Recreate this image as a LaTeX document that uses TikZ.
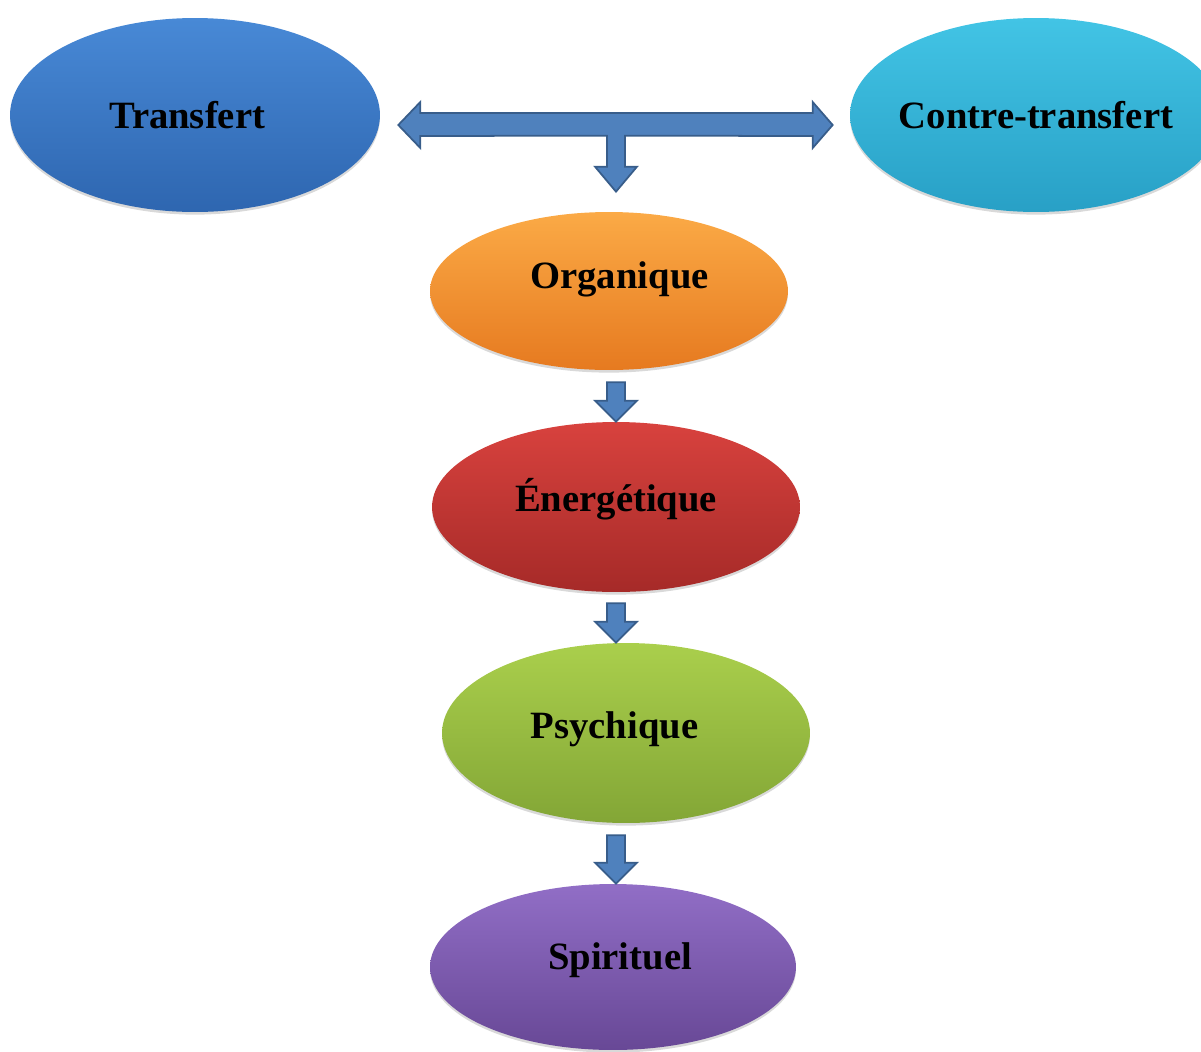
\documentclass[tikz,border=0pt]{standalone}
\usepackage{fontspec}
\setmainfont{Liberation Serif}
\usetikzlibrary{shapes.geometric}
\usetikzlibrary{shadows}
\usetikzlibrary{calc}

\definecolor{arrowblue}{RGB}{79,129,189}
\definecolor{arrowedge}{RGB}{56,93,138}
\definecolor{blueTop}{RGB}{72,137,214}
\definecolor{blueBot}{RGB}{46,102,176}
\definecolor{cyanTop}{RGB}{66,196,229}
\definecolor{cyanBot}{RGB}{40,160,198}
\definecolor{orangeTop}{RGB}{251,170,70}
\definecolor{orangeBot}{RGB}{230,122,32}
\definecolor{redTop}{RGB}{216,66,62}
\definecolor{redBot}{RGB}{166,42,40}
\definecolor{greenTop}{RGB}{170,207,76}
\definecolor{greenBot}{RGB}{131,166,54}
\definecolor{purpleTop}{RGB}{145,110,198}
\definecolor{purpleBot}{RGB}{104,72,150}

% block arrow pointing down, from tail #1 to tip #2
\newcommand{\blockdown}[2]{%
  \path[blockarrow] ($#1+(-9,0)$) -- ($#1+(9,0)$) -- ($#2+(9,-21)$)
    -- ($#2+(21,-21)$) -- #2 -- ($#2+(-21,-21)$) -- ($#2+(-9,-21)$) -- cycle;}

\begin{document}
\begin{tikzpicture}[
    x=0.02cm, y=-0.02cm,
    bubble/.style={ellipse, inner sep=0pt, text height=15pt, text depth=0pt,
      font=\bfseries\fontsize{22}{26}\selectfont,
      drop shadow={shadow xshift=0pt, shadow yshift=-1.5pt, opacity=.3}},
    blockarrow/.style={fill=arrowblue, draw=arrowedge, line width=1pt, line join=miter}
  ]
  \path[use as bounding box, clip] (0,0) rectangle (1201,1052);

  \node[bubble, top color=blueTop, bottom color=blueBot,
    minimum width=7.4cm, minimum height=3.88cm] (tra) at (195,115) {Transfert\hspace*{9pt}};
  \node[bubble, top color=cyanTop, bottom color=cyanBot,
    minimum width=7.44cm, minimum height=3.88cm] (ctr) at (1036,115) {\makebox[4cm]{Contre-transfert}};
  \node[bubble, top color=orangeTop, bottom color=orangeBot, text depth=18pt,
    minimum width=7.16cm, minimum height=3.16cm] (org) at (609,291) {\hspace*{12pt}Organique};
  \node[bubble, top color=redTop, bottom color=redBot, text depth=10pt,
    minimum width=7.36cm, minimum height=3.4cm] (ene) at (616,507) {Énergétique};
  \node[bubble, top color=greenTop, bottom color=greenBot, text depth=9pt,
    minimum width=7.36cm, minimum height=3.6cm] (psy) at (626,733) {Psychique\hspace*{13pt}};
  \node[bubble, top color=purpleTop, bottom color=purpleBot, text depth=12pt,
    minimum width=7.32cm, minimum height=3.32cm] (spi) at (613,967) {\hspace*{8pt}Spirituel};

  \coordinate (mid) at (616,0);
  \coordinate (l) at ($(tra.east)+(18,10)$);
  \coordinate (r) at ($(ctr.west)+(-17,10)$);
  \coordinate (s) at ($(org.north -| mid)+(0,-20)$);

  % double arrow with stem
  \path[blockarrow] (l) -- ($(l)+(22,-23)$) -- ($(l)+(22,-12)$) -- ($(r)+(-20,-12)$)
    -- ($(r)+(-20,-23)$) -- (r) -- ($(r)+(-20,23)$) -- ($(r)+(-20,11)$)
    -- ($(s)+(9,-56)$) -- ($(s)+(9,-25)$) -- ($(s)+(21,-25)$) -- (s)
    -- ($(s)+(-21,-25)$) -- ($(s)+(-9,-25)$) -- ($(s)+(-9,-56)$)
    -- ($(l)+(22,11)$) -- ($(l)+(22,23)$) -- cycle;

  \coordinate (a1) at ($(org.south -| mid)+(0,12)$);
  \coordinate (a2) at ($(ene.south -| mid)+(0,11)$);
  \coordinate (a3) at ($(psy.south -| mid)+(0,12)$);
  \blockdown{(a1)}{(ene.north -| mid)}
  \blockdown{(a2)}{(psy.north -| mid)}
  \blockdown{(a3)}{(spi.north -| mid)}
\end{tikzpicture}
\end{document}
